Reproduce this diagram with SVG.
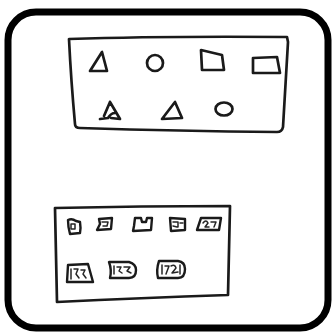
<svg xmlns="http://www.w3.org/2000/svg" width="332" height="334" viewBox="0 0 332 334">
<style>
.s{fill:none;stroke:#1a1a1a;stroke-width:2.7;stroke-linecap:round;stroke-linejoin:round}
.t{fill:none;stroke:#1a1a1a;stroke-width:2.4;stroke-linecap:round;stroke-linejoin:round}
.i{fill:none;stroke:#262626;stroke-width:1.5;stroke-linecap:round;stroke-linejoin:round}
</style>
<rect x="0" y="0" width="332" height="334" fill="#ffffff"/>
<rect x="8" y="12" width="320" height="316" rx="28" fill="#ffffff" stroke="#000000" stroke-width="7"/>
<g id="top-box">
<path class="s" d="M69,39 Q160,36 287,37 L288,42 Q285,90 283,127 Q282,132 277,132 Q180,131 80,128 Q75,128 75,124 Q71,80 69,39 Z"/>
<path class="s" d="M102,52 L90,71 L107,71 Z"/>
<circle class="s" cx="155" cy="63" r="8"/>
<path class="s" d="M201,50 L222,55 L224,70 L202,70 Z"/>
<path class="s" d="M253,58 L277,57 L280,73 L253,73 Z"/>
<path class="s" d="M110,102 L104,116 M100,119 L108,118 Q111,113 115,113 M110,102 L120,119 L111,118"/>
<path class="s" d="M175,102 L162,119 L182,118 Z"/>
<ellipse class="s" cx="224" cy="109" rx="8.5" ry="6.5"/>
</g>
<g id="bottom-box">
<path class="s" d="M55,208 Q140,206 230,206 Q229,250 228,295 Q140,298 57,302 Q56,255 55,208 Z"/>
<path class="t" d="M68,220 Q72,218 76,221 L80,222 Q81,228 80,233 L70,234 Q68,227 68,220 Z"/>
<rect class="i" x="71" y="224" width="4" height="5"/>
<path class="t" d="M99,219 L112,218 L111,229 L97,230 L100,224 Z"/>
<path class="i" d="M102,222 L108,222 L107,226 L103,226"/>
<path class="t" d="M135,218 L141,218 L142,222 L146,222 L147,218 L152,218 L151,230 L133,231 L134,226 Z"/>
<path class="t" d="M170,218 L185,219 L185,230 L171,231 Z"/>
<path class="i" d="M173,222 L178,222 L178,227 M180,223 L183,223 M173,226 L177,227"/>
<path class="t" d="M201,218 L221,218 L219,230 L197,230 Z"/>
<path class="i" d="M203,223 Q206,219 208,223 L205,227 L209,227 M211,222 L216,222 L214,227"/>
<path class="t" d="M68,265 L88,264 L93,282 L67,282 Z"/>
<path class="i" d="M71,269 L71,279 M74,269 L78,269 L76,274 L79,278 M81,270 L85,270 L83,274 L86,278"/>
<path class="t" d="M109,262 L129,262 Q136,264 136,270 Q136,278 129,278 L110,278 Q112,270 109,262 Z"/>
<path class="i" d="M114,266 L114,274 M117,267 L121,267 L119,271 L122,273 M124,267 L130,267 L127,271 L131,273"/>
<path class="t" d="M159,261 L178,261 Q185,262 185,269 Q185,278 178,278 L158,278 Q156,270 159,261 Z"/>
<path class="i" d="M162,265 L162,274 M165,266 L169,266 L166,274 M171,266 Q175,264 176,268 L172,273 L178,272 M180,265 L180,274"/>
</g>
</svg>
